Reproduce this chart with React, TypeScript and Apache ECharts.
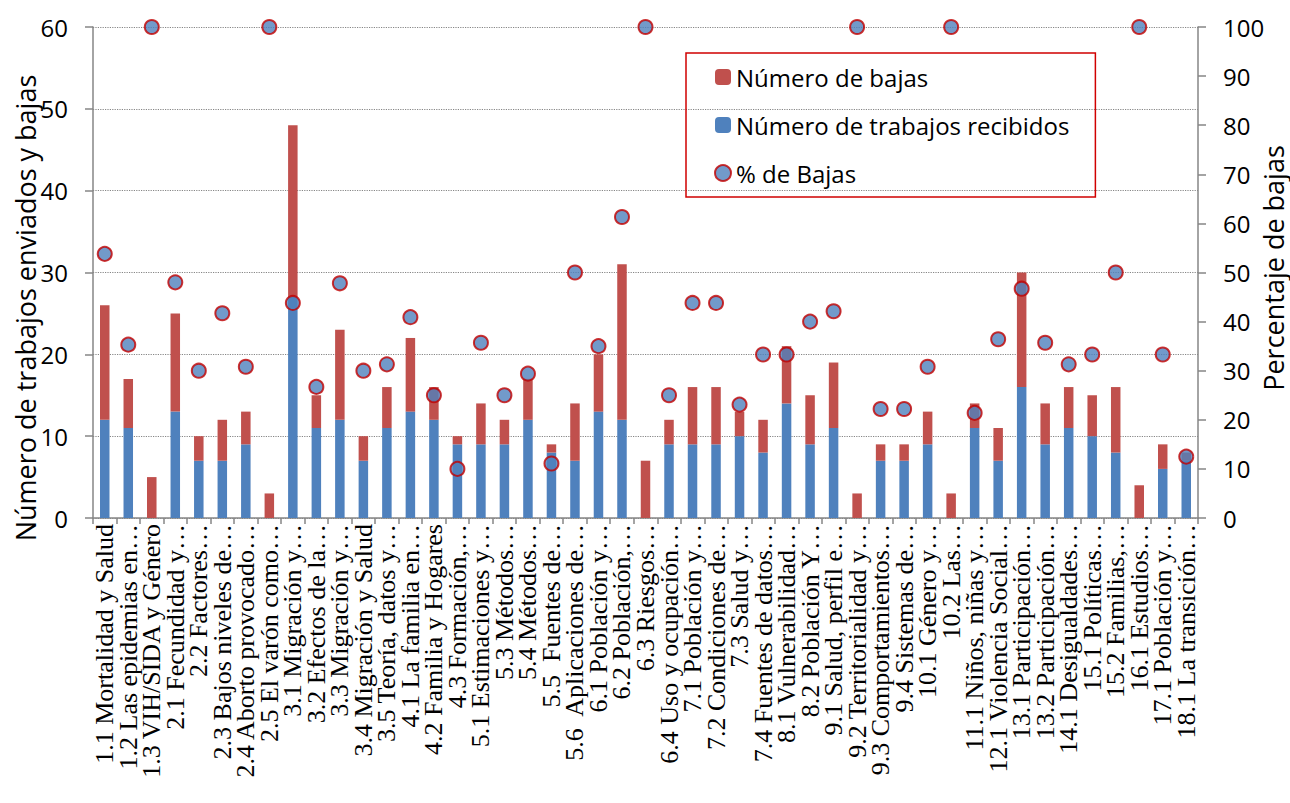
import React, { useEffect, useRef } from "react";
import * as echarts from "echarts";

const categories = [
  "1.1 Mortalidad y Salud", "1.2 Las epidemias en…", "1.3 VIH/SIDA y Género", "2.1 Fecundidad y…",
  "2.2 Factores…", "2.3 Bajos niveles de…", "2.4 Aborto provocado…", "2.5 El varón como…",
  "3.1 Migración y…", "3.2 Efectos de la…", "3.3 Migración y…", "3.4 Migración y Salud",
  "3.5 Teoría, datos y…", "4.1 La familia en…", "4.2 Familia y Hogares", "4.3 Formación,…",
  "5.1 Estimaciones y…", "5.3 Métodos…", "5.4 Métodos…", "5.5  Fuentes de…",
  "5.6  Aplicaciones de…", "6.1 Población y…", "6.2 Población,…", "6.3 Riesgos…",
  "6.4 Uso y ocupación…", "7.1 Población y…", "7.2 Condiciones de…", "7.3 Salud y…",
  "7.4 Fuentes de datos…", "8.1 Vulnerabilidad…", "8.2 Población Y…", "9.1 Salud, perfil e…",
  "9.2 Territorialidad y…", "9.3 Comportamientos…", "9.4 Sistemas de…", "10.1 Género y…",
  "10.2 Las…", "11.1 Niños, niñas y…", "12.1 Violencia Social…", "13.1 Participación…",
  "13.2 Participación…", "14.1 Desigualdades…", "15.1 Políticas…", "15.2 Familias,…",
  "16.1 Estudios…", "17.1 Población y…", "18.1 La transición…",
];

const recibidos = [12, 11, 0, 13, 7, 7, 9, 0, 27, 11, 12, 7, 11, 13, 12, 9, 9, 9, 12, 8, 7, 13, 12, 0, 9, 9, 9, 10, 8, 14, 9, 11, 0, 7, 7, 9, 0, 11, 7, 16, 9, 11, 10, 8, 0, 6, 7];
const bajas = [14, 6, 5, 12, 3, 5, 4, 3, 21, 4, 11, 3, 5, 9, 4, 1, 5, 3, 5, 1, 7, 7, 19, 7, 3, 7, 7, 3, 4, 7, 6, 8, 3, 2, 2, 4, 3, 3, 4, 14, 5, 5, 5, 8, 4, 3, 1];
const pctBajas = [53.8, 35.3, 100, 48, 30, 41.7, 30.8, 100, 43.8, 26.7, 47.8, 30, 31.3, 40.9, 25, 10, 35.7, 25, 29.4, 11.1, 50, 35, 61.3, 100, 25, 43.8, 43.8, 23.1, 33.3, 33.3, 40, 42.1, 100, 22.2, 22.2, 30.8, 100, 21.4, 36.4, 46.7, 35.7, 31.3, 33.3, 50, 100, 33.3, 12.5];

const leftTicks = { min: 0, max: 60, interval: 10 };
const rightTicks = { min: 0, max: 100, interval: 10 };

const RED = "#C0504D";
const BLUE = "#4F81BD";
const AXIS = "#868686";
const SANS = "'Open Sans', 'Noto Sans', sans-serif";

export default function App() {
  const ref = useRef<HTMLDivElement>(null);
  useEffect(() => {
    if (!ref.current) return;
    const chart = echarts.init(ref.current, null, { renderer: "svg" });
    chart.setOption({
      animation: false,
      backgroundColor: "#ffffff",
      grid: { left: 93, right: 92, top: 27, bottom: 285 },
      legend: {
        orient: "vertical",
        left: 686,
        top: 53,
        data: ["Número de bajas", "Número de trabajos recibidos", "% de Bajas"],
        itemWidth: 16,
        itemHeight: 16,
        itemGap: 24,
        padding: [12, 26, 12, 28],
        borderColor: "#D00000",
        borderWidth: 1.5,
        textStyle: { fontFamily: SANS, fontSize: 24, color: "#000", lineHeight: 24 },
      },
      xAxis: {
        type: "category",
        data: categories,
        boundaryGap: true,
        axisLine: { lineStyle: { color: AXIS, width: 1.5 } },
        axisTick: { show: true, length: 6, lineStyle: { color: AXIS, width: 1.5 } },
        axisLabel: {
          interval: 0,
          rotate: 90,
          margin: 6,
          fontFamily: "'Liberation Serif', 'Times New Roman', serif",
          fontSize: 26,
          color: "#000",
        },
      },
      yAxis: [
        {
          type: "value",
          ...leftTicks,
          axisLine: { show: true, lineStyle: { color: AXIS, width: 1.5 } },
          axisTick: { show: true, length: 8, lineStyle: { color: AXIS, width: 1.5 } },
          axisLabel: { margin: 25, fontFamily: SANS, fontSize: 24, color: "#000" },
          splitLine: { show: true, lineStyle: { color: AXIS, type: "dotted", width: 1.2 } },
        },
        {
          type: "value",
          position: "right",
          ...rightTicks,
          axisLine: { show: true, lineStyle: { color: AXIS, width: 1.5 } },
          axisTick: { show: true, length: 8, lineStyle: { color: AXIS, width: 1.5 } },
          axisLabel: { margin: 25, fontFamily: SANS, fontSize: 24, color: "#000" },
          splitLine: { show: false },
        },
      ],
      graphic: [
        {
          type: "text",
          x: 25,
          y: 308,
          rotation: Math.PI / 2,
          style: {
            text: "Número de trabajos enviados y bajas",
            fontFamily: SANS,
            fontSize: 27,
            fill: "#000",
            align: "center",
            verticalAlign: "middle",
          },
        },
        {
          type: "text",
          x: 1273,
          y: 268,
          rotation: Math.PI / 2,
          style: {
            text: "Percentaje de bajas",
            fontFamily: SANS,
            fontSize: 27,
            fill: "#000",
            align: "center",
            verticalAlign: "middle",
          },
        },
      ],
      series: [
        {
          name: "Número de trabajos recibidos",
          type: "bar",
          stack: "t",
          data: recibidos,
          barWidth: 9.5,
          itemStyle: { color: BLUE },
        },
        {
          name: "Número de bajas",
          type: "bar",
          stack: "t",
          data: bajas,
          barWidth: 9.5,
          itemStyle: { color: RED },
        },
        {
          name: "% de Bajas",
          type: "scatter",
          yAxisIndex: 1,
          data: pctBajas,
          symbol: "circle",
          symbolSize: 14,
          z: 5,
          itemStyle: { color: BLUE, borderColor: "#C00000", borderWidth: 2 },
        },
      ],
    });
    return () => chart.dispose();
  }, []);
  return (
    <div
      ref={ref}
      style={{ position: "absolute", left: 0, top: 0, width: 1290, height: 803 }}
    />
  );
}
